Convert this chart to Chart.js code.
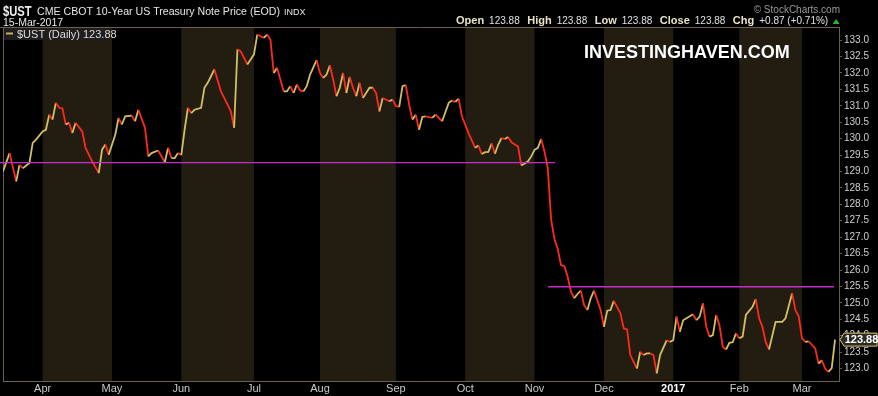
<!DOCTYPE html>
<html><head><meta charset="utf-8">
<script src="https://cdn.jsdelivr.net/npm/chart.js@4.4.1/dist/chart.umd.min.js"></script>
<style>html,body{margin:0;padding:0;background:#000;overflow:hidden}#wrap{width:878px;height:396px;position:relative}</style>
</head><body><div id="wrap"><canvas id="c" width="878" height="396"></canvas></div>
<script>
// trading-day index (0 = 15-Mar-2016) and closing price
const dayIndex = [0,2,4,5,6,8,9,10,12,13,14,15,16,17,18,19,20,21,22,24,25,27,29,30,31,32,34,35,36,37,39,40,41,43,44,45,47,49,50,51,52,53,54,55,56,57,58,60,61,62,63,64,66,67,69,70,71,72,74,75,76,77,79,80,81,82,83,85,86,87,88,89,90,91,92,93,95,96,97,98,99,100,101,102,103,104,105,106,107,108,109,111,112,113,114,115,117,118,119,120,121,122,123,124,125,126,127,128,130,131,133,135,136,137,138,139,141,143,144,145,146,147,148,149,150,151,152,153,154,156,157,159,160,161,162,163,164,165,166,167,168,169,170,171,172,173,174,175,176,177,178,179,181,182,183,184,185,187,188,189,190,192,193,194,195,196,197,198,199,201,202,203,204,205,206,207,209,210,211,212,213,214,215,216,217,218,219,220,221,222,223,224,225,227,228,229,230,231,232,234,235,236,237,239,240,241,242,243,244,246,247,248,249,250,251,252];
const price = [129.00,129.56,128.70,129.20,129.10,129.26,129.87,129.97,130.22,130.27,130.73,130.58,131.09,130.94,130.92,130.43,130.48,130.17,130.48,130.22,129.72,129.31,128.95,129.66,129.82,129.51,130.12,130.63,130.43,130.68,130.70,130.53,130.88,130.33,129.46,129.56,129.64,129.28,129.72,129.41,129.41,129.56,129.50,130.27,130.94,130.78,130.88,130.94,131.55,131.70,131.90,132.11,131.44,131.24,130.83,130.33,132.72,132.66,132.26,132.41,132.56,133.17,133.07,133.17,133.02,132.00,132.16,131.44,131.44,131.60,131.39,131.65,131.47,131.44,131.60,131.95,132.39,132.00,131.85,131.95,132.23,131.80,131.29,131.55,132.00,131.39,131.88,131.55,131.29,131.70,131.24,131.55,131.55,131.39,130.83,131.24,131.14,131.19,130.99,130.97,131.60,131.63,131.04,130.58,130.73,130.27,130.66,130.68,130.63,130.73,130.53,131.09,131.16,131.12,131.22,130.68,130.17,129.72,129.79,129.53,129.59,129.60,129.85,129.54,129.82,130.02,129.99,130.05,129.89,129.76,129.18,129.31,129.46,129.66,129.72,129.99,129.61,129.10,127.55,126.95,126.65,126.15,126.12,125.80,125.35,125.14,125.27,125.37,124.93,124.78,125.14,125.37,124.78,124.27,124.76,124.78,125.06,124.68,124.22,124.19,123.41,123.00,123.51,123.41,123.46,123.46,123.41,122.85,123.41,123.86,123.81,123.86,124.58,124.12,124.47,124.53,124.65,124.47,124.58,124.98,124.27,123.97,124.02,124.63,124.32,123.66,123.58,123.78,123.80,124.07,123.92,123.97,124.63,124.88,125.11,124.53,124.27,123.81,123.58,124.42,124.42,124.42,124.53,125.29,124.78,124.58,123.92,123.81,123.83,123.61,123.15,123.25,123.00,122.90,123.01,123.88];

const monthLabels = ['Apr','May','Jun','Jul','Aug','Sep','Oct','Nov','Dec','2017','Feb','Mar'];
const monthStart  = [12,33,54,76,96,119,140,161,182,203,223,242];
const shadedMonth = [true,false,true,false,true,false,true,false,true,false,true,false];
const yTicks = [123.0,123.5,124.0,124.5,125.0,125.5,126.0,126.5,127.0,127.5,128.0,128.5,129.0,129.5,130.0,130.5,131.0,131.5,132.0,132.5,133.0];
const supportLevel = [129.27, 125.49];
const supportFrom  = [-1, 165.1];
const supportTo    = [167.2, 251.7];

const UP = '#d2c066', DOWN = '#ff2a1c', MAGENTA = '#c62cc6';
const BAND = '#231c10', FRAME = '#6b604a';
const FONT = '"Liberation Sans", Arial, sans-serif';

const last = price[price.length-1], prev = price[price.length-2];
const chg = last - prev, pct = chg / prev * 100;

const bgPlugin = {
  id: 'bg',
  beforeDraw(chart) {
    const c = chart.ctx;
    c.save(); c.fillStyle = '#000'; c.fillRect(0,0,chart.width,chart.height); c.restore();
  },
  beforeDatasetsDraw(chart) {
    const c = chart.ctx, a = chart.chartArea, xs = chart.scales.x;
    c.save();
    c.fillStyle = BAND;
    for (let k = 0; k < monthStart.length - 1; k++) {
      if (!shadedMonth[k]) continue;
      const x0 = xs.getPixelForValue(monthStart[k]), x1 = xs.getPixelForValue(monthStart[k+1]);
      c.fillRect(x0, a.top, x1 - x0, a.bottom - a.top);
    }
    c.strokeStyle = FRAME; c.lineWidth = 1;
    c.beginPath(); c.moveTo(0, a.top + 0.5); c.lineTo(a.right, a.top + 0.5); c.stroke();
    c.beginPath(); c.moveTo(a.left + 0.5, a.top); c.lineTo(a.left + 0.5, a.bottom); c.stroke();
    c.restore();
  }
};

const overlayPlugin = {
  id: 'overlay',
  afterDraw(chart) {
    const c = chart.ctx, a = chart.chartArea, ys = chart.scales.y;
    c.save();
    c.textBaseline = 'alphabetic'; c.textAlign = 'left';
    // title
    c.fillStyle = '#f0f0f0';
    c.font = 'bold 14px ' + FONT;
    c.save(); c.translate(3, 16); c.scale(0.8, 1); c.fillText('$UST', 0, 0); c.restore();
    c.fillStyle = '#e6e6e6';
    c.font = '10.6px ' + FONT; c.fillText('CME CBOT 10-Year US Treasury Note Price (EOD)', 37, 15);
    c.font = '9px ' + FONT; c.fillText('INDX', 284, 15);
    c.font = '10.5px ' + FONT; c.fillText('15-Mar-2017', 3, 26);
    // copyright
    c.textAlign = 'right'; c.fillStyle = '#9a9a9a';
    c.font = '10px ' + FONT; c.fillText('\u00A9 StockCharts.com', 840, 13);
    // quote line
    c.textAlign = 'left';
    const parts = [['Open', last.toFixed(2)], ['High', last.toFixed(2)], ['Low', last.toFixed(2)], ['Close', last.toFixed(2)],
                   ['Chg', (chg >= 0 ? '+' : '') + chg.toFixed(2) + ' (' + (pct >= 0 ? '+' : '') + pct.toFixed(2) + '%)']];
    let x = 456;
    for (const [lab, val] of parts) {
      c.fillStyle = '#e8e2c8'; c.font = 'bold 11px ' + FONT; c.fillText(lab, x, 24);
      x += c.measureText(lab).width + 5;
      c.fillStyle = '#e0e0e0'; c.font = '10px ' + FONT; c.fillText(val, x, 24);
      x += c.measureText(val).width + 7.5;
    }
    c.fillStyle = '#2fae2f';
    c.beginPath(); c.moveTo(x - 3, 24); c.lineTo(x + 4, 24); c.lineTo(x + 0.5, 19); c.closePath(); c.fill();
    // legend box
    c.fillStyle = '#1e1e1e'; c.fillRect(a.left + 1, a.top + 1, 105, 12);
    c.strokeStyle = '#c8b060'; c.lineWidth = 2;
    c.beginPath(); c.moveTo(6, a.top + 6.5); c.lineTo(13, a.top + 6.5); c.stroke();
    c.fillStyle = '#dcdcdc'; c.font = '11px ' + FONT;
    c.fillText('$UST (Daily) ' + last.toFixed(2), 17, a.top + 11);
    // watermark
    c.fillStyle = '#ffffff'; c.font = 'bold 18px ' + FONT;
    c.fillText('INVESTINGHAVEN.COM', 584, 58);
    // last price tag
    const py = ys.getPixelForValue(last);
    const L = a.right + 1, R = 877;
    c.beginPath();
    c.moveTo(L, py); c.lineTo(L + 4, py - 6.5); c.lineTo(R, py - 6.5); c.lineTo(R, py + 6.5); c.lineTo(L + 4, py + 6.5); c.closePath();
    c.fillStyle = '#2b2b22'; c.fill();
    c.strokeStyle = '#d8c878'; c.lineWidth = 1; c.stroke();
    c.fillStyle = '#ffffff'; c.font = 'bold 11px ' + FONT; c.textAlign = 'center'; c.textBaseline = 'middle';
    c.fillText(last.toFixed(2), (L + 4 + R) / 2 + 1, py + 0.5);
    c.restore();
  }
};

const datasets = [{
  data: dayIndex.map((d, k) => ({x: d, y: price[k]})),
  borderColor: UP, borderWidth: 1.8, pointRadius: 0, tension: 0, order: 2,
  segment: { borderColor: s => s.p1.parsed.y < s.p0.parsed.y ? DOWN : UP }
}];
supportLevel.forEach((lvl, k) => datasets.push({
  data: [{x: supportFrom[k], y: lvl}, {x: supportTo[k], y: lvl}],
  borderColor: MAGENTA, borderWidth: 1.4, pointRadius: 0, order: 1, clip: false
}));

new Chart(document.getElementById('c').getContext('2d'), {
  type: 'line',
  data: { datasets },
  options: {
    responsive: false, animation: false, devicePixelRatio: 1,
    layout: { padding: { left: 3, top: 27, right: 0, bottom: 0 } },
    plugins: { legend: { display: false }, tooltip: { enabled: false } },
    scales: {
      x: {
        type: 'linear', min: 0, max: 253.2,
        grid: { display: false, drawTicks: false, tickLength: 0 },
        border: { display: true, color: FRAME, dash: [1, 1] },
        afterBuildTicks: s => { s.ticks = monthStart.map(v => ({ value: v })); },
        afterFit: s => { s.height = 15; },
        ticks: {
          autoSkip: false, maxRotation: 0, padding: 1,
          color: c => monthLabels[c.index] === '2017' ? '#ffffff' : '#c8c8c8',
          font: c => ({ family: FONT, size: 11, weight: monthLabels[c.index] === '2017' ? 'bold' : 'normal' }),
          callback: (v, i) => monthLabels[i]
        }
      },
      y: {
        position: 'right', min: 122.62, max: 133.40,
        afterBuildTicks: s => { s.ticks = yTicks.map(v => ({ value: v })); },
        afterFit: s => { s.width = 39; },
        grid: { drawOnChartArea: false, tickLength: 3, color: FRAME },
        border: { color: FRAME },
        ticks: { color: '#cfcfcf', padding: 2, font: { family: FONT, size: 10 }, callback: v => Number(v).toFixed(1) }
      }
    }
  },
  plugins: [bgPlugin, overlayPlugin]
});
</script></body></html>
